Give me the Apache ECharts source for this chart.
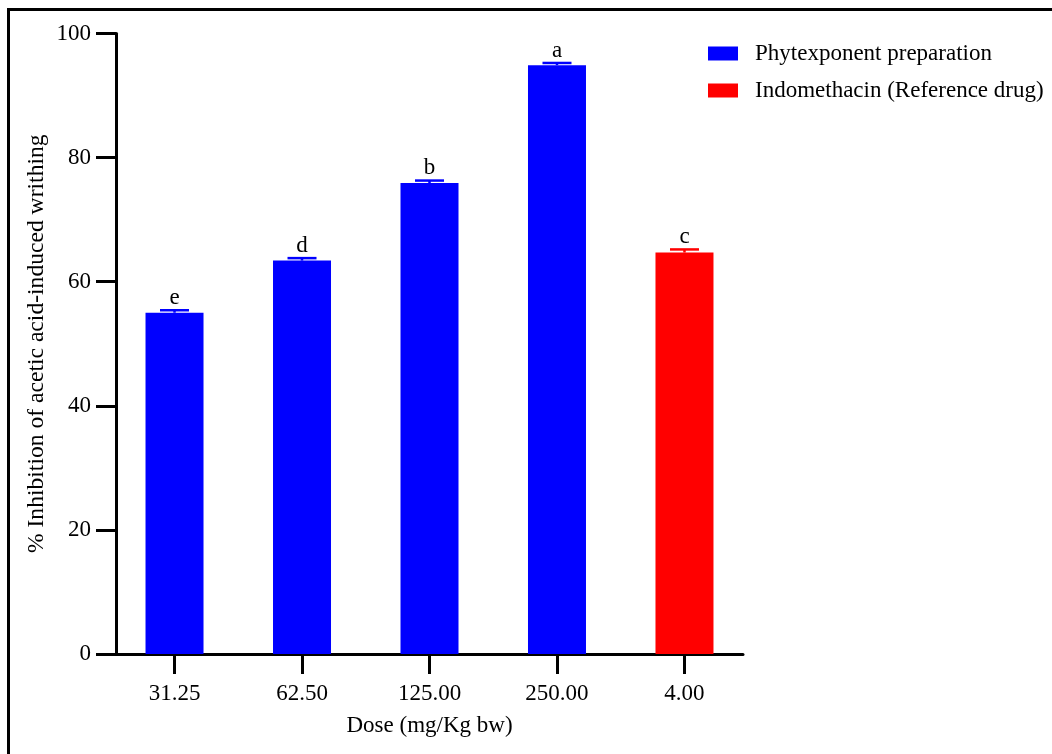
<!DOCTYPE html>
<html>
<head>
<meta charset="utf-8">
<script src="https://cdn.jsdelivr.net/npm/echarts@6/dist/echarts.min.js"></script>
<style>
html,body{margin:0;padding:0;background:#fff;}
#chart{width:1052px;height:754px;}
</style>
</head>
<body>
<div id="chart"></div>
<script>
const categories = ['31.25', '62.50', '125.00', '250.00', '4.00'];
const phytoValues = [55.0, 63.4, 75.9, 94.9];
const indoValues = [64.7];
const errors = [0.4, 0.4, 0.4, 0.35, 0.5];
const letters = ['e', 'd', 'b', 'a', 'c'];
const seriesNames = ['Phytexponent preparation', 'Indomethacin (Reference drug)'];
const seriesColors = ['#0000FF', '#FF0000'];

const FONT = 'Liberation Serif';
const FS = 23;
const allValues = phytoValues.concat(indoValues);
const catIdx = categories.map((c, i) => i);
const phytoData = phytoValues.map((v, i) => [i, v]);
const indoData = indoValues.map((v, i) => [phytoValues.length + i, v]);
const errData = allValues.map((v, i) => [i, v, errors[i], i]);

const chart = echarts.init(document.getElementById('chart'), null, { renderer: 'canvas' });
const pad = 0.459;

chart.setOption({
  animation: false,
  backgroundColor: '#fff',
  textStyle: { fontFamily: FONT, color: '#000' },
  graphic: [{
    type: 'rect',
    shape: { x: 8.5, y: 9.5, width: 1200, height: 900 },
    style: { fill: 'none', stroke: '#000', lineWidth: 3 },
    silent: true
  }],
  legend: {
    orient: 'vertical',
    left: 703,
    top: 37,
    itemWidth: 30,
    itemHeight: 14,
    itemGap: 14,
    icon: 'rect',
    data: seriesNames,
    textStyle: { fontFamily: FONT, fontSize: FS, color: '#000', padding: [0, 0, 0, 12] }
  },
  grid: { left: 116, right: 309, top: 33.5, bottom: 100, containLabel: false },
  xAxis: {
    type: 'value',
    min: -pad,
    max: categories.length - 1 + pad,
    name: 'Dose (mg/Kg bw)',
    nameLocation: 'middle',
    nameGap: 60,
    nameMoveOverlap: false,
    nameTextStyle: { fontFamily: FONT, fontSize: FS, color: '#000' },
    axisLine: { show: true, onZero: false, lineStyle: { color: '#000', width: 3 } },
    axisTick: { show: true, customValues: catIdx, length: 20, lineStyle: { color: '#000', width: 3 } },
    axisLabel: {
      customValues: catIdx,
      formatter: v => categories[Math.round(v)],
      margin: 28,
      fontFamily: FONT, fontSize: FS, color: '#000'
    },
    splitLine: { show: false }
  },
  yAxis: {
    type: 'value',
    min: 0,
    max: 100,
    interval: 20,
    name: '% Inhibition of acetic acid-induced writhing',
    nameLocation: 'middle',
    nameGap: 67,
    nameMoveOverlap: false,
    nameTextStyle: { fontFamily: FONT, fontSize: 23.6, color: '#000' },
    axisLine: { show: true, onZero: false, lineStyle: { color: '#000', width: 3 } },
    axisTick: { show: true, length: 20, lineStyle: { color: '#000', width: 3 } },
    axisLabel: { margin: 25, fontFamily: FONT, fontSize: FS, color: '#000' },
    splitLine: { show: false }
  },
  series: [
    {
      name: seriesNames[0], type: 'bar', data: phytoData, barWidth: 58, barGap: '-100%',
      itemStyle: { color: seriesColors[0] }
    },
    {
      name: seriesNames[1], type: 'bar', data: indoData, barWidth: 58, barGap: '-100%',
      itemStyle: { color: seriesColors[1] }
    },
    {
      name: 'err', type: 'custom', data: errData, z: 5,
      renderItem: function (params, api) {
        const x = api.value(0), m = api.value(1), e = api.value(2), i = api.value(3);
        const top = api.coord([x, m + e]);
        const base = api.coord([x, m]);
        const color = i < phytoValues.length ? seriesColors[0] : seriesColors[1];
        const half = 14.5;
        return {
          type: 'group',
          children: [
            { type: 'line', shape: { x1: base[0], y1: base[1], x2: top[0], y2: top[1] }, style: { stroke: color, lineWidth: 2.5 } },
            { type: 'line', shape: { x1: top[0] - half, y1: top[1], x2: top[0] + half, y2: top[1] }, style: { stroke: color, lineWidth: 2.5 } },
            { type: 'text', x: top[0], y: top[1] - 1, style: { text: letters[i], textAlign: 'center', textVerticalAlign: 'bottom', font: FS + 'px ' + FONT, fill: '#000' } }
          ]
        };
      }
    }
  ]
});
</script>
</body>
</html>
